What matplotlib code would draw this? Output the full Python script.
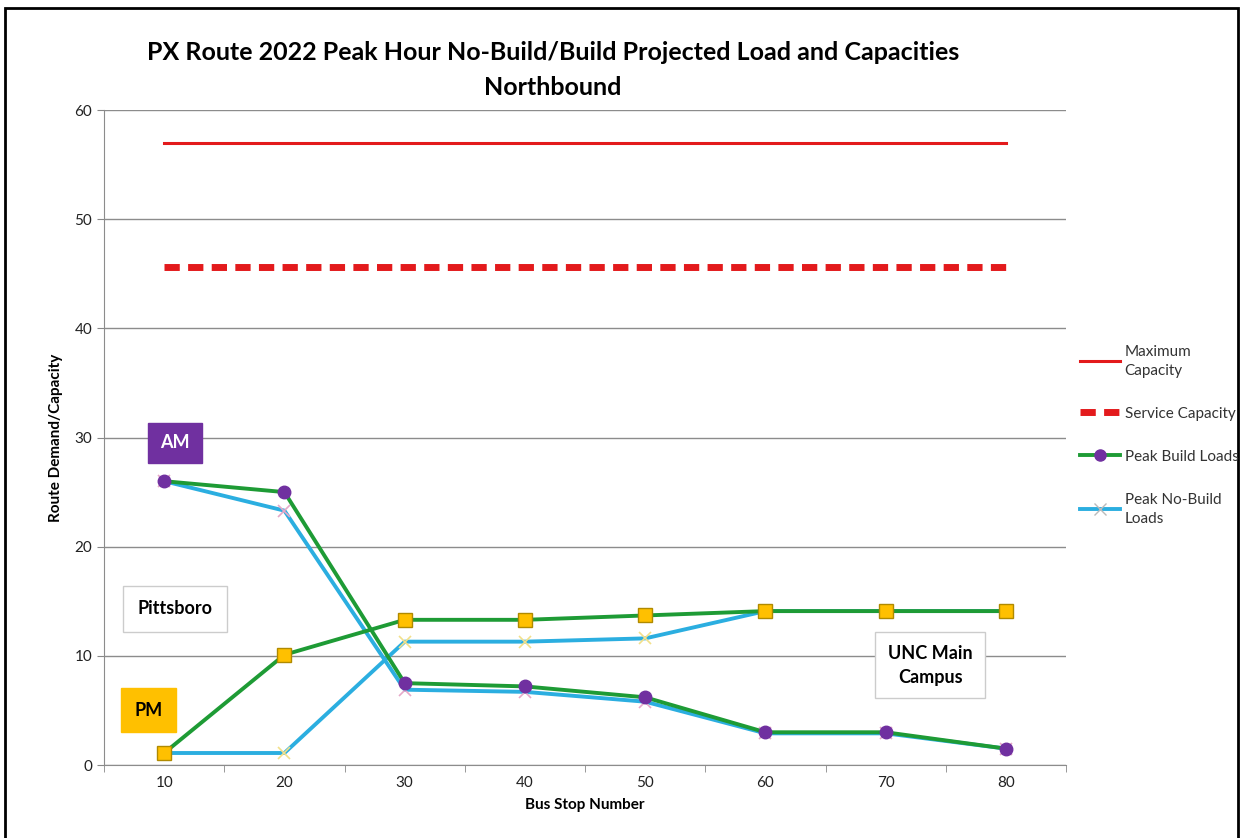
"""PX Route 2022 peak hour load vs capacity chart, northbound."""

import matplotlib
matplotlib.use("Agg")
import numpy as np
from matplotlib import pyplot as plt
from matplotlib.lines import Line2D
from matplotlib.patches import Rectangle

plt.rcParams["font.family"] = ["Lato", "DejaVu Sans"]

# Data
stops = ["10", "20", "30", "40", "50", "60", "70", "80"]
max_capacity = [57, 57, 57, 57, 57, 57, 57, 57]
service_capacity = [45.6, 45.6, 45.6, 45.6, 45.6, 45.6, 45.6, 45.6]
am_build = [26.0, 25.0, 7.5, 7.2, 6.2, 3.0, 3.0, 1.5]
am_nobuild = [26.0, 23.3, 6.9, 6.7, 5.8, 2.9, 2.9, 1.5]
pm_build = [1.1, 10.1, 13.3, 13.3, 13.7, 14.1, 14.1, 14.1]
pm_nobuild = [1.1, 1.1, 11.3, 11.3, 11.6, 14.1, 14.1, 14.1]

red = "#E31A1C"
green = "#1E9B35"
cyan = "#2BAEE0"
purple = "#7030A0"
gold = "#FFC000"

fig = plt.figure(figsize=(12.43, 8.38), dpi=100)
ax = fig.add_axes([0.0837, 0.0871, 0.774, 0.7816])
x = np.arange(len(stops))

ax.plot(x, max_capacity, color=red, lw=2.2, zorder=3)
ax.plot(x, service_capacity, color=red, lw=5, ls=(0, (2.2, 1.2)), zorder=3)

# No-build lines first so build lines sit on top
ax.plot(x, am_nobuild, color=cyan, lw=2.8, marker="x", ms=9,
        mec="#E6A8C8", mew=1.2, zorder=4)
ax.plot(x, pm_nobuild, color=cyan, lw=2.8, marker="x", ms=9,
        mec="#F2E08A", mew=1.2, zorder=4)
ax.plot(x, am_build, color=green, lw=2.8, marker="o", ms=9,
        mfc=purple, mec=purple, zorder=5)
ax.plot(x, pm_build, color=green, lw=2.8, marker="s", ms=10,
        mfc=gold, mec="#B08A00", mew=1, zorder=5)

ax.set_xlim(-0.5, len(stops) - 0.5)
ax.set_ylim(0, 60)
ax.set_yticks(range(0, 61, 10))
ax.set_xticks(x)
ax.set_xticklabels(stops)
ax.set_xticks(np.arange(-0.5, len(stops)), minor=True)
ax.tick_params(axis="x", which="major", length=0, labelsize=11, colors="#222222", pad=8)
ax.tick_params(axis="x", which="minor", length=5, color="#888888")
ax.tick_params(axis="y", length=5, color="#888888", labelsize=11, labelcolor="#222222")
ax.grid(axis="y", color="#8C8C8C", lw=1)
ax.set_axisbelow(True)
for side in ("top", "right"):
    ax.spines[side].set_visible(False)
for side in ("left", "bottom"):
    ax.spines[side].set_color("#8C8C8C")

ax.set_xlabel("Bus Stop Number", fontsize=11, fontweight="bold", labelpad=6)
ax.set_ylabel("Route Demand/Capacity", fontsize=11, fontweight="bold", labelpad=8)

fig.text(0.445, 0.937, "PX Route 2022 Peak Hour No-Build/Build Projected Load and Capacities",
         ha="center", va="center", fontsize=18, fontweight="bold")
fig.text(0.445, 0.895, "Northbound", ha="center", va="center",
         fontsize=18, fontweight="bold")

# Annotation boxes
ax.text(0.09, 29.5, "AM", ha="center", va="center", fontsize=13, fontweight="bold",
        color="white", bbox=dict(boxstyle="square,pad=0.65", fc=purple, ec=purple))
ax.text(-0.13, 5.0, "PM", ha="center", va="center", fontsize=13, fontweight="bold",
        color="black", bbox=dict(boxstyle="square,pad=0.75", fc=gold, ec=gold))
ax.text(0.09, 14.3, "Pittsboro", ha="center", va="center", fontsize=13,
        fontweight="bold", bbox=dict(boxstyle="square,pad=0.8", fc="white", ec="#CCCCCC"))
ax.text(6.37, 9.15, "UNC Main\nCampus", ha="center", va="center", fontsize=13,
        fontweight="bold", linespacing=1.5,
        bbox=dict(boxstyle="square,pad=0.7", fc="white", ec="#CCCCCC"))

handles = [
    Line2D([], [], color=red, lw=2.2),
    Line2D([], [], color=red, lw=5, ls=(0, (2.2, 1.2))),
    Line2D([], [], color=green, lw=2.8, marker="o", ms=8, mfc=purple, mec=purple),
    Line2D([], [], color=cyan, lw=2.8, marker="x", ms=8, mec="#BBBBBB"),
]
labels = ["Maximum\nCapacity", "Service Capacity", "Peak Build Loads", "Peak No-Build\nLoads"]
leg = fig.legend(handles, labels, loc="upper left", bbox_to_anchor=(0.858, 0.605),
                 frameon=False, fontsize=11, labelspacing=1.9, handlelength=2.6,
                 handletextpad=0.3, labelcolor="#333333")
for t in leg.get_texts():
    t.set_linespacing(1.45)

fig.add_artist(Rectangle((0.004, -0.01), 0.992, 1.0, transform=fig.transFigure,
                         fill=False, ec="black", lw=2))

fig.savefig("out.png", dpi=100)
